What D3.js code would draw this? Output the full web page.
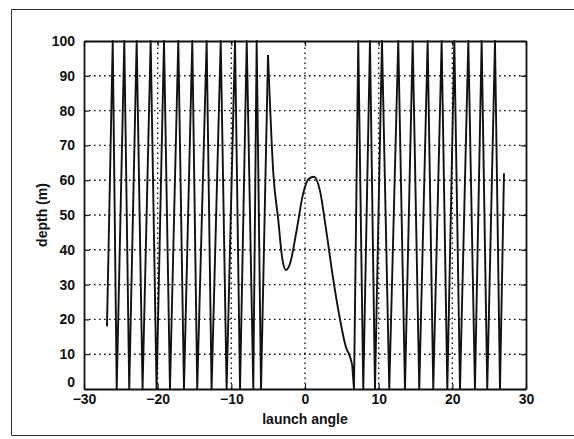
<!DOCTYPE html>
<html>
<head>
<meta charset="utf-8">
<script src="https://cdn.jsdelivr.net/npm/d3@7"></script>
<style>
  body { margin: 0; background: #fff; }
  svg text { font-family: "Liberation Sans", Arial, sans-serif; font-weight: bold; fill: #111; }
</style>
</head>
<body>
<svg id="chart" width="574" height="439"></svg>
<script>

// turning points of the depth curve, left to right
const angle = [
  -26.88, -26.10, -25.56, -24.53, -23.86, -22.85, -22.05, -20.95, -20.15, -19.14,
  -18.33, -17.20, -16.43, -15.30, -14.63, -13.35, -12.68, -11.44, -10.64, -9.50,
  -8.82, -7.91, -7.02, -6.56, -5.97, -5.02, -4.30, -3.63, -3.12, -2.58,
  -2.04, -1.13, -0.27, 0.54, 1.22, 2.03, 2.85, 3.80, 4.75, 5.56,
  6.11, 6.40, 6.65, 7.23, 7.91, 8.82, 9.50, 10.45, 11.44, 12.66,
  13.57, 14.62, 15.51, 16.65, 17.41, 18.55, 19.32, 20.27, 21.04, 22.17,
  23.07, 23.98, 24.74, 25.79, 26.47, 27.01
]
const depth = [
  18, 100, 0, 100, 0, 100, 0, 100, 0, 100,
  0, 100, 0, 100, 0, 100, 0, 100, 0, 100,
  0, 100, 0, 100, 0, 96, 62, 48.6, 38, 34.2,
  36, 45.7, 56, 60.5, 61, 57, 46, 32, 20, 12,
  9.3, 7, 0, 100, 0, 100, 0, 100, 0, 100,
  0, 100, 0, 100, 0, 100, 0, 100, 0, 100,
  0, 100, 0, 100, 0, 62
]
// the smooth middle stretch runs between these two points
const humpStart = 25, humpEnd = 41

const xTicks = [-30, -20, -10, 0, 10, 20, 30]
const yTicks = [0, 10, 20, 30, 40, 50, 60, 70, 80, 90, 100]

const margin = {top: 41, right: 48, bottom: 50, left: 84}
const width = 574, height = 439

const svg = d3.select('#chart')

// figure border (runs off the right edge)
svg.append('path')
  .attr('d', 'M577,9.5H11.5V435.5H577')
  .attr('fill', 'none')
  .attr('stroke', '#333')
  .attr('stroke-width', 1)

const x = d3.scaleLinear()
  .domain([-30, 30])
  .range([margin.left, width - margin.right])

const y = d3.scaleLinear()
  .domain([0, 100])
  .range([height - margin.bottom, margin.top])

// dotted grid
const grid = svg.append('g')
  .attr('stroke', '#111')
  .attr('stroke-width', 1.4)
  .attr('stroke-dasharray', '1.6,3.4')

grid.selectAll('.gx')
  .data(xTicks.slice(1, -1))
  .join('line')
    .attr('x1', d => x(d)).attr('x2', d => x(d))
    .attr('y1', y(0)).attr('y2', y(100))

grid.selectAll('.gy')
  .data(yTicks.slice(1, -1))
  .join('line')
    .attr('x1', x(-30)).attr('x2', x(30))
    .attr('y1', d => y(d)).attr('y2', d => y(d))

// curve: sharp zigzag on both sides, smooth through the middle
const points = angle.map((a, i) => [a, depth[i]])
const sharp = d3.line().x(d => x(d[0])).y(d => y(d[1]))
const smooth = d3.line().x(d => x(d[0])).y(d => y(d[1])).curve(d3.curveMonotoneX)

const pieces = [
  [points.slice(0, humpStart + 1), sharp],
  [points.slice(humpStart, humpEnd + 1), smooth],
  [points.slice(humpEnd), sharp]
]

svg.append('g')
  .selectAll('path')
  .data(pieces)
  .join('path')
    .attr('fill', 'none')
    .attr('stroke', '#111')
    .attr('stroke-width', 1.9)
    .attr('stroke-linejoin', 'round')
    .attr('d', d => d[1](d[0]))

// axes, ticks pointing inward on all four sides
const fontSize = 14
svg.append('g')
  .attr('transform', 'translate(0,' + y(0) + ')')
  .call(d3.axisBottom(x).tickValues(xTicks).tickSize(-5).tickPadding(5).tickSizeOuter(0))
svg.append('g')
  .attr('transform', 'translate(0,' + y(100) + ')')
  .call(d3.axisTop(x).tickValues(xTicks).tickSize(-5).tickFormat('').tickSizeOuter(0))
const yAxis = svg.append('g')
  .attr('transform', 'translate(' + x(-30) + ',0)')
  .call(d3.axisLeft(y).tickValues(yTicks).tickSize(-5).tickPadding(9).tickSizeOuter(0))
svg.append('g')
  .attr('transform', 'translate(' + x(30) + ',0)')
  .call(d3.axisRight(y).tickValues(yTicks).tickSize(-5).tickFormat('').tickSizeOuter(0))

// lift the bottom y label clear of the x labels
yAxis.selectAll('.tick text').filter(d => d === 0).attr('y', -7)

svg.selectAll('.domain').attr('stroke', '#111').attr('stroke-width', 1.8)
svg.selectAll('.tick line').attr('stroke', '#111').attr('stroke-width', 1.2)
svg.selectAll('.tick text')
  .attr('font-size', fontSize)
  .attr('font-family', '"Liberation Sans", Arial, sans-serif')
  .attr('font-weight', 'bold')
  .attr('fill', '#111')

// axis titles
svg.append('text')
  .attr('x', x(0))
  .attr('y', 424)
  .attr('text-anchor', 'middle')
  .attr('font-size', 14)
  .text('launch angle')

svg.append('text')
  .attr('transform', 'translate(47,' + y(50) + ') rotate(-90)')
  .attr('text-anchor', 'middle')
  .attr('font-size', 14)
  .text('depth (m)')

</script>
</body>
</html>
